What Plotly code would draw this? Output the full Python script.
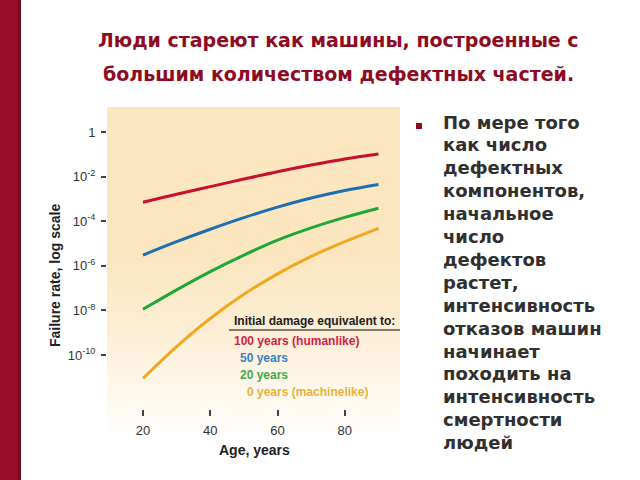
import plotly.graph_objects as go

# ---------------- data ----------------
ages = [20, 30, 40, 50, 60, 70, 80, 90]
log_rate_100y = [-3.15, -2.79, -2.45, -2.11, -1.78, -1.48, -1.21, -0.99]
log_rate_50y = [-5.52, -4.92, -4.36, -3.84, -3.37, -2.96, -2.62, -2.35]
log_rate_20y = [-7.95, -7.08, -6.26, -5.52, -4.85, -4.30, -3.83, -3.42]
log_rate_0y = [-11.05, -9.62, -8.36, -7.28, -6.36, -5.58, -4.92, -4.32]

series_labels = ["100 years (humanlike)", "50 years", "20 years", "0 years (machinelike)"]
series_logs = [log_rate_100y, log_rate_50y, log_rate_20y, log_rate_0y]
line_colors = ["#C8102E", "#1F6EB0", "#1FA83A", "#F0A820"]
label_colors = ["#D21E4A", "#3C80C2", "#3DAA4C", "#E9B23A"]

y_tick_exps = [0, -2, -4, -6, -8, -10]
y_tick_text = ["1", "10<sup>-2</sup>", "10<sup>-4</sup>", "10<sup>-6</sup>",
               "10<sup>-8</sup>", "10<sup>-10</sup>"]
x_tick_vals = [20, 40, 60, 80]

title_lines = ["Люди стареют как машины, построенные с",
               "большим количеством дефектных частей."]
bullet_lines = ["По мере того", "как число", "дефектных", "компонентов,",
                "начальное", "число", "дефектов", "растет,", "интенсивность",
                "отказов машин", "начинает", "походить на", "интенсивность",
                "смертности", "людей"]

# ---------------- layout geometry (pixels) ----------------
W, H = 640, 480
L, R, T, B = 107, 400, 107, 409


def px(x):
    return (x - L) / (R - L)


def py(y):
    return (B - y) / (B - T)


NARROW = "Liberation Sans, Arial, sans-serif"
WIDE = "DejaVu Sans, Verdana, sans-serif"

fig = go.Figure()
for lab, logs, col in zip(series_labels, series_logs, line_colors):
    fig.add_trace(go.Scatter(
        x=ages, y=[10 ** v for v in logs], mode="lines", name=lab,
        line=dict(color=col, width=3, shape="spline", smoothing=1.0),
        showlegend=False, hoverinfo="skip"))

shapes = []
# beige background fading to white at the bottom
beige = (251, 230, 192)
top, fade_start, bottom = 107, 250, 436
step = 3
y = top
while y < bottom:
    y2 = min(y + step, bottom)
    mid = (y + y2) / 2
    if mid <= fade_start:
        t = 0.0
    else:
        t = min(1.0, (mid - fade_start) / (bottom - fade_start)) ** 1.3
    c = tuple(int(round(b + (255 - b) * t)) for b in beige)
    shapes.append(dict(type="rect", xref="paper", yref="paper", layer="below",
                       x0=px(107), x1=px(400), y0=py(y2 + 0.5), y1=py(y),
                       fillcolor="rgb(%d,%d,%d)" % c, line=dict(width=0)))
    y = y2

# left dark red bar
shapes.append(dict(type="rect", xref="paper", yref="paper", layer="above",
                   x0=px(0), x1=px(20), y0=py(480), y1=py(0),
                   fillcolor="#9A0B2C", line=dict(width=0)))
shapes.append(dict(type="rect", xref="paper", yref="paper", layer="above",
                   x0=px(18), x1=px(21), y0=py(480), y1=py(0),
                   fillcolor="#6E0A20", line=dict(width=0)))
# legend underline
shapes.append(dict(type="line", xref="paper", yref="paper", layer="above",
                   x0=px(229), x1=px(400), y0=py(330), y1=py(330),
                   line=dict(color="#555555", width=1.5)))
# bullet square
shapes.append(dict(type="rect", xref="paper", yref="paper", layer="above",
                   x0=px(416), x1=px(422), y0=py(129), y1=py(123),
                   fillcolor="#8E0B22", line=dict(width=0)))

annotations = []
# title
for i, line in enumerate(title_lines):
    annotations.append(dict(text=line, xref="paper", yref="paper",
                            x=px(338), y=py(40 + 34 * i), xanchor="center", yanchor="middle",
                            showarrow=False,
                            font=dict(family=WIDE, size=19, color="#8E0B22", weight="bold")))
# bullet text
for i, line in enumerate(bullet_lines):
    annotations.append(dict(text=line, xref="paper", yref="paper",
                            x=px(441), y=py(122 + 22.9 * i), xanchor="left", yanchor="middle",
                            showarrow=False,
                            font=dict(family=WIDE, size=18, color="#303030", weight="bold")))
# axis titles
annotations.append(dict(text="Failure rate, log scale", xref="paper", yref="paper",
                        x=px(55), y=py(276), xanchor="center", yanchor="middle",
                        textangle=-90, showarrow=False,
                        font=dict(family=NARROW, size=14, color="#222222", weight="bold")))
annotations.append(dict(text="Age, years", xref="paper", yref="paper",
                        x=px(254), y=py(450), xanchor="center", yanchor="middle",
                        showarrow=False,
                        font=dict(family=NARROW, size=14, color="#222222", weight="bold")))
# legend
annotations.append(dict(text="Initial damage equivalent to:", xref="paper", yref="paper",
                        x=px(232), y=py(321), xanchor="left", yanchor="middle",
                        showarrow=False,
                        font=dict(family=NARROW, size=12, color="#222222", weight="bold")))
leg_x = [232, 238, 238, 245]
for i, (lab, col) in enumerate(zip(series_labels, label_colors)):
    annotations.append(dict(text=lab, xref="paper", yref="paper",
                            x=px(leg_x[i]), y=py(341 + 17 * i), xanchor="left", yanchor="middle",
                            showarrow=False,
                            font=dict(family=NARROW, size=12, color=col, weight="bold")))

fig.update_layout(
    width=W, height=H,
    margin=dict(l=L, r=W - R, t=T, b=H - B, pad=0),
    paper_bgcolor="white", plot_bgcolor="rgba(0,0,0,0)",
    shapes=shapes, annotations=annotations,
    xaxis=dict(range=[9.3, 96.4], showgrid=False, zeroline=False, showline=False,
               tickmode="array", tickvals=x_tick_vals,
               ticks="outside", ticklen=6, tickwidth=2, tickcolor="#444444",
               ticklabelstandoff=3,
               tickfont=dict(family=NARROW, size=13, color="#333333")),
    yaxis=dict(type="log", range=[-12.42, 1.12], showgrid=False, zeroline=False,
               showline=False, tickmode="array",
               tickvals=[10 ** e for e in y_tick_exps], ticktext=y_tick_text,
               ticks="outside", ticklen=5, tickwidth=1.5, tickcolor="#444444",
               ticklabelstandoff=3,
               tickfont=dict(family=NARROW, size=13, color="#333333")),
)

fig.write_html("out.html")
